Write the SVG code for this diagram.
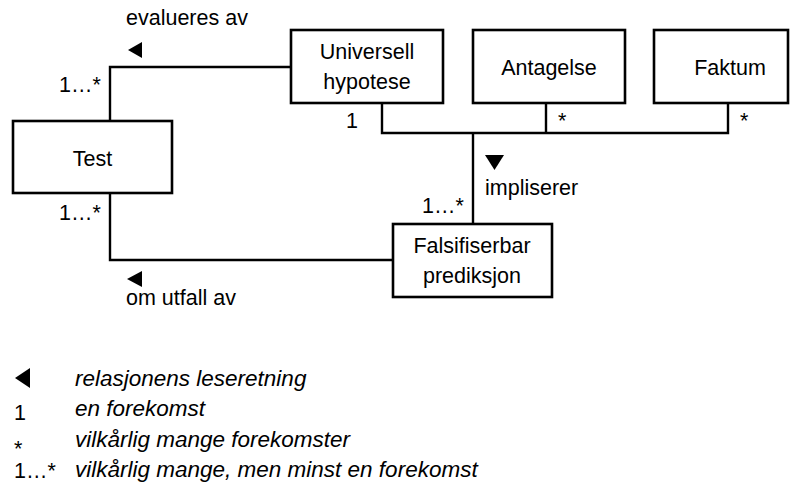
<svg xmlns="http://www.w3.org/2000/svg" width="794" height="484" viewBox="0 0 794 484">
<style>
.box{fill:#fff;stroke:#000;stroke-width:2.6}
.ln{fill:none;stroke:#000;stroke-width:2.4}
text{font-family:"Liberation Sans",Arial,sans-serif;font-size:21.5px;fill:#000}
.c{text-anchor:middle}
.i{font-style:italic;font-size:22.5px}
</style>
<rect width="794" height="484" fill="#fff"/>
<g id="connectors">
<path class="ln" d="M291,67 H110 V121"/>
<path class="ln" d="M110,193 V260 H393"/>
<path class="ln" d="M382,103 V133 H728 V103 M546,103 V133 M473,133 V224"/>
<polygon points="142,42 142,58 128,50"/>
<polygon points="142,271 142,287 127,279"/>
<polygon points="485,155 504,155 494.5,170"/>
<text x="126" y="25">evalueres av</text>
<text x="126" y="305">om utfall av</text>
<text x="485" y="195">impliserer</text>
<text x="59" y="92">1…*</text>
<text x="59" y="220">1…*</text>
<text x="422" y="213">1…*</text>
<text x="346" y="128">1</text>
<text x="558" y="128">*</text>
<text x="740" y="128">*</text>
</g>
<g id="universell"><rect class="box" x="291" y="30" width="152" height="73"/><text class="c" x="367" y="59">Universell</text><text class="c" x="367" y="89">hypotese</text></g>
<g id="antagelse"><rect class="box" x="473" y="30" width="152" height="73"/><text class="c" x="549" y="75">Antagelse</text></g>
<g id="faktum"><rect class="box" x="654" y="30" width="134" height="73"/><text class="c" x="730" y="75">Faktum</text></g>
<g id="test"><rect class="box" x="13" y="121" width="159" height="72"/><text class="c" x="92.5" y="166">Test</text></g>
<g id="falsifiserbar"><rect class="box" x="393" y="224" width="159" height="73"/><text class="c" x="472" y="253">Falsifiserbar</text><text class="c" x="472" y="283">prediksjon</text></g>
<g id="legend">
<polygon points="30,368 30,388 15,378"/>
<text class="i" x="75" y="386">relasjonens leseretning</text>
<text x="14" y="420">1</text>
<text class="i" x="75" y="416">en forekomst</text>
<text x="14" y="456">*</text>
<text class="i" x="75" y="447">vilkårlig mange forekomster</text>
<text x="14" y="478">1…*</text>
<text class="i" x="75" y="477">vilkårlig mange, men minst en forekomst</text>
</g>
</svg>
